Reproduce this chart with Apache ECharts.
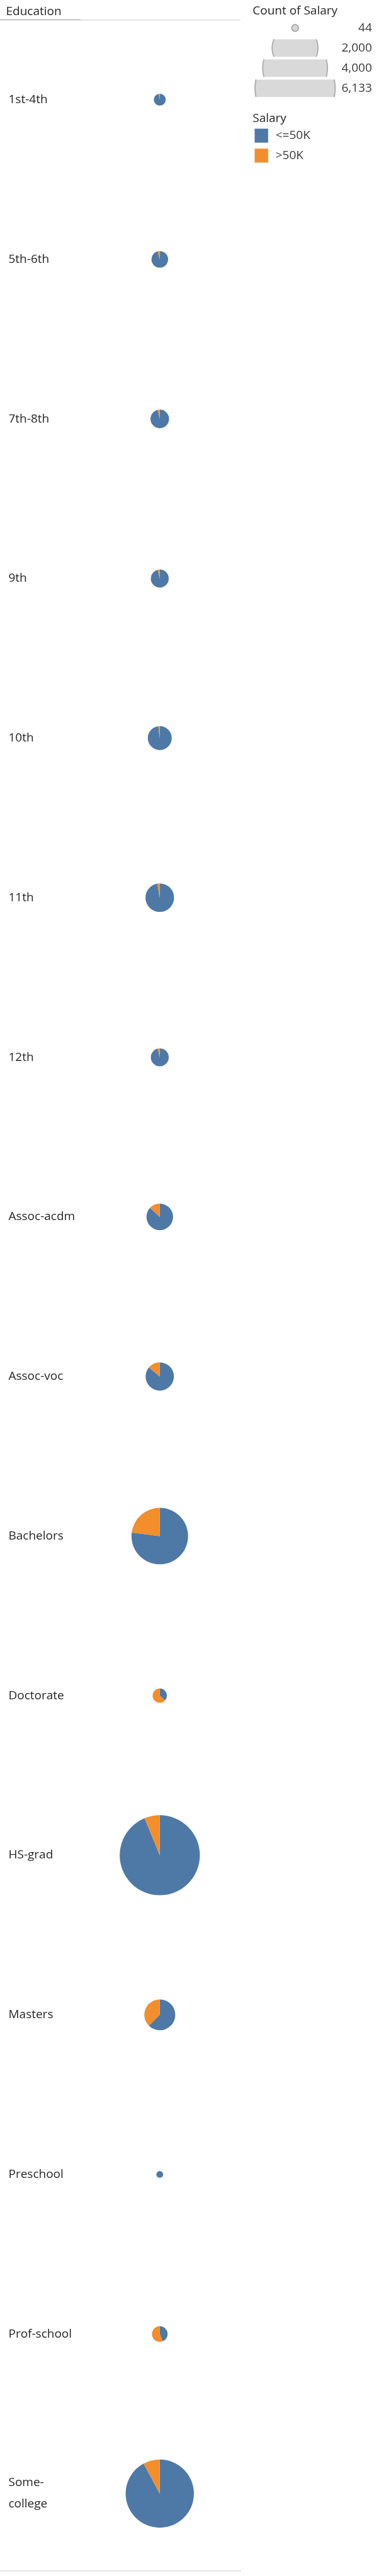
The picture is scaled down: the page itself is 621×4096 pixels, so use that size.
<!DOCTYPE html>
<html><head><meta charset="utf-8">
<script src="https://cdn.jsdelivr.net/npm/echarts@6/dist/echarts.min.js"></script>
<style>html,body{margin:0;padding:0;background:#fff}#c{width:621px;height:4096px}</style>
</head><body><div id="c"></div>
<script>
// ---- data ----
const educationLevels = ['1st-4th','5th-6th','7th-8th','9th','10th','11th','12th','Assoc-acdm','Assoc-voc','Bachelors','Doctorate','HS-grad','Masters','Preschool','Prof-school','Some-college'];
const countLe50K = [133,253,319,297,537,759,296,588,658,2352,72,5753,572,44,103,4095];
const countGt50K = [4,11,12,11,11,22,12,88,107,703,124,380,343,0,130,351];
const salaryClasses = ['<=50K','>50K'];
const sizeLegendValues = [44,2000,4000,6133];
const sizeLegendLabels = ['44','2,000','4,000','6,133'];

// ---- styling ----
const S = 0.793;
const FONT = '"Open Sans", sans-serif';
const FS = 19;
const TXT = '#262626';
const COLORS = ['#4e79a7','#f28e2b'];
const R_PER_SQRT = 0.8128;
const rOf = v => R_PER_SQRT * Math.sqrt(v);

const chart = echarts.init(document.getElementById('c'), null, {renderer:'canvas'});

function bandPoints(cx, cy, r, h, side) {
  const pts = [], N = 24;
  for (let i = 0; i <= N; i++) {
    const y = -h + 2*h*i/N;
    const x = Math.sqrt(Math.max(r*r - y*y, 0));
    pts.push([cx + side*x, cy + y]);
  }
  return pts;
}

const graphics = [];
// header
graphics.push({type:'text', style:{text:'Education', x:12*S, y:23*S, font:`${FS}px ${FONT}`, fill:TXT, textVerticalAlign:'middle'}});
graphics.push({type:'line', shape:{x1:0,y1:40*S,x2:482*S,y2:40*S}, style:{stroke:'#dadada', lineWidth:1.5}});
graphics.push({type:'line', shape:{x1:0,y1:39.5*S,x2:161*S,y2:39.5*S}, style:{stroke:'#c8c8c8', lineWidth:2}});
// bottom border
graphics.push({type:'line', shape:{x1:0,y1:5155*S,x2:483*S,y2:5155*S}, style:{stroke:'#dadada', lineWidth:1.5}});

// size legend
graphics.push({type:'text', style:{text:'Count of Salary', x:506*S, y:22*S, font:`${FS}px ${FONT}`, fill:TXT, textVerticalAlign:'middle'}});
const legCx = 591*S;
sizeLegendValues.forEach((v, i) => {
  const cy = (56 + 40.3*i) * S;
  const r = rOf(v);
  const h = 17.5*S;
  if (r <= h) {
    graphics.push({type:'circle', shape:{cx:legCx, cy:cy, r:r}, style:{fill:'#d6d6d6', stroke:'#ababab', lineWidth:2}});
  } else {
    const left = bandPoints(legCx, cy, r, h, -1);
    const right = bandPoints(legCx, cy, r, h, 1);
    graphics.push({type:'polygon', shape:{points:left.concat(right.slice().reverse())}, style:{fill:'#d9d9d9'}});
    graphics.push({type:'polyline', shape:{points:left}, style:{stroke:'#b0b0b0', lineWidth:2, fill:null}});
    graphics.push({type:'polyline', shape:{points:right}, style:{stroke:'#b0b0b0', lineWidth:2, fill:null}});
  }
  graphics.push({type:'text', style:{text:sizeLegendLabels[i], x:745*S, y:cy, font:`${FS}px ${FONT}`, fill:'#3a3a3a', textAlign:'right', textVerticalAlign:'middle'}});
});

// colour legend
graphics.push({type:'text', style:{text:'Salary', x:506*S, y:238*S, font:`${FS}px ${FONT}`, fill:TXT, textVerticalAlign:'middle'}});
salaryClasses.forEach((s, i) => {
  const y0 = (258 + 40*i) * S;
  graphics.push({type:'rect', shape:{x:510*S, y:y0, width:27*S, height:28*S}, style:{fill:COLORS[i]}});
  graphics.push({type:'text', style:{text:s, x:552*S, y:y0 + 14*S, font:`${FS}px ${FONT}`, fill:'#3a3a3a', textVerticalAlign:'middle'}});
});

const option = {
  animation: false,
  backgroundColor: '#ffffff',
  textStyle: {fontFamily: FONT},
  grid: {left: 0, top: 40*S, width: 640*S, height: 5120*S, containLabel: false, outerBoundsMode: 'none'},
  xAxis: {type:'value', min:-1, max:1, show:false},
  yAxis: {
    type:'category', data: educationLevels, inverse: true,
    axisLine:{show:false}, axisTick:{show:false}, splitLine:{show:false},
    axisLabel:{inside:true, margin:17*S, color:TXT, fontSize:FS, fontFamily:FONT, align:'left', lineHeight:34,
      formatter: v => v.replace('Some-', 'Some-\n')}
  },
  series: [{
    type:'custom',
    coordinateSystem:'cartesian2d',
    clip:false,
    encode:{x:0, y:1},
    data: educationLevels.map((e, i) => [0, i, countLe50K[i], countGt50K[i]]),
    renderItem(params, api) {
      const idx = api.value(1);
      const lo = api.value(2), hi = api.value(3);
      const total = lo + hi;
      const p = api.coord([0, idx]);
      const r = rOf(total);
      const a0 = -Math.PI/2;
      const a1 = a0 + 2*Math.PI*lo/total;
      const children = [];
      if (lo > 0) children.push({type:'sector', shape:{cx:p[0], cy:p[1], r:r, r0:0, startAngle:a0, endAngle:a1, clockwise:true}, style:{fill:COLORS[0]}});
      if (hi > 0) children.push({type:'sector', shape:{cx:p[0], cy:p[1], r:r, r0:0, startAngle:a1, endAngle:a0 + 2*Math.PI, clockwise:true}, style:{fill:COLORS[1]}});
      return {type:'group', children};
    }
  }],
  graphic: graphics
};
chart.setOption(option);
</script>
</body></html>
